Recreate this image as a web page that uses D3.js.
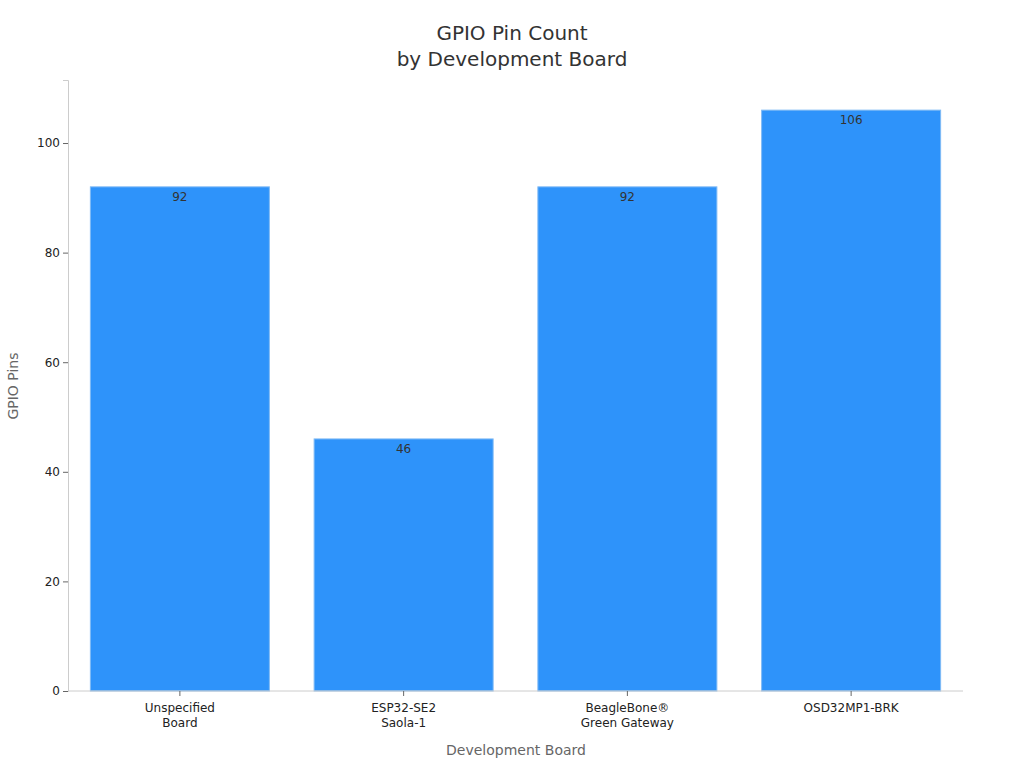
<!DOCTYPE html>
<html><head><meta charset="utf-8">
<script src="https://cdn.jsdelivr.net/npm/d3@7"></script>
<style>body{margin:0;background:#fff;font-family:"DejaVu Sans",sans-serif}</style>
</head><body><svg id="c" width="1024" height="768"></svg>
<script>
const categories = [["Unspecified","Board"],["ESP32-SE2","Saola-1"],["BeagleBone®","Green Gateway"],["OSD32MP1-BRK"]];
const values = [92, 46, 92, 106];
const yTicks = [0,20,40,60,80,100];

const svg = d3.select("#c");
const m = {l:68, r:963, t:80, b:691};
const x = d3.scaleBand().domain(categories.map((d,i)=>i)).range([m.l,m.r]).paddingInner(0.2).paddingOuter(0.1);
const y = d3.scaleLinear().domain([0,111.5]).range([m.b,m.t]);

svg.append("g").selectAll("rect").data(values).join("rect")
  .attr("x",(d,i)=>x(i)).attr("width",x.bandwidth())
  .attr("y",d=>y(d)).attr("height",d=>y(0)-y(d))
  .attr("fill","#2E93FA").attr("stroke","#7fbaf5").attr("stroke-width",1);

svg.append("g").selectAll("text").data(values).join("text")
  .attr("x",(d,i)=>x(i)+x.bandwidth()/2).attr("y",d=>y(d)+14)
  .attr("text-anchor","middle").attr("font-size",12).attr("fill","#333").text(d=>d);

const ya = svg.append("g").attr("transform",`translate(${m.l},0)`)
  .call(d3.axisLeft(y).tickValues(yTicks).tickSize(5).tickPadding(3));
ya.select(".domain").attr("stroke","#ccc");
ya.selectAll(".tick line").attr("stroke","#666");
ya.selectAll("text").attr("font-size",12).attr("fill","#222").attr("font-family","DejaVu Sans");

const xa = svg.append("g").attr("transform",`translate(0,${m.b})`)
  .call(d3.axisBottom(x).tickSize(5).tickFormat(""));
xa.select(".domain").attr("stroke","#ccc").attr("d",`M${m.l},0H${m.r}`);
xa.selectAll(".tick line").attr("stroke","#666");
xa.selectAll(".tick").each(function(d){
  const t=d3.select(this).append("text").attr("fill","#222").attr("font-size",12).attr("text-anchor","middle").attr("font-family","DejaVu Sans");
  categories[d].forEach((s,k)=>t.append("tspan").attr("x",0).attr("y",21+k*15).text(s));
});

svg.append("text").attr("x",516).attr("y",755).attr("text-anchor","middle").attr("font-size",14).attr("fill","#666").text("Development Board");
svg.append("text").attr("transform","translate(18,386) rotate(-90)").attr("text-anchor","middle").attr("font-size",14).attr("fill","#666").text("GPIO Pins");
const ti = svg.append("text").attr("text-anchor","middle").attr("font-size",20).attr("fill","#333");
ti.append("tspan").attr("x",512).attr("y",40).text("GPIO Pin Count");
ti.append("tspan").attr("x",512).attr("y",66).text("by Development Board");
</script></body></html>
